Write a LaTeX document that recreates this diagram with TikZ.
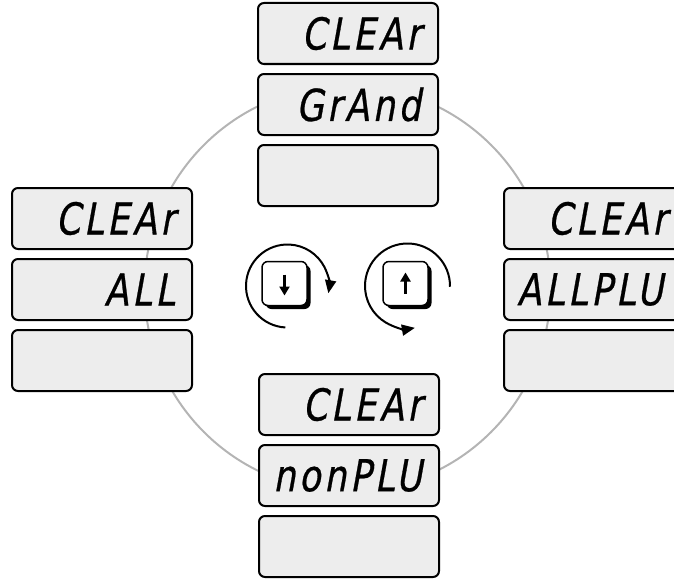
\documentclass[tikz,border=0pt]{standalone}
\usepackage{fontspec}
\newfontfamily\seg[FakeStretch=0.8,FakeSlant=0.18,LetterSpace=8,FakeBold=0.6]{DejaVu Sans}
\usetikzlibrary{arrows.meta,shadows}
\definecolor{boxgray}{RGB}{237,237,237}
\definecolor{ringgray}{RGB}{180,180,180}
\begin{document}
\begin{tikzpicture}[x=1pt,y=1pt,
  display/.style={draw=black, line width=2pt, fill=boxgray, rounded corners=6pt,
    rectangle, minimum height=61pt, minimum width=180pt, inner sep=0pt, anchor=north west},
  segtext/.style={font=\seg\fontsize{44}{44}\selectfont, inner sep=0pt, anchor=east},
  keybox/.style={draw=black, line width=1.5pt, fill=white, rounded corners=6pt,
    minimum width=45pt, minimum height=44pt, inner sep=0pt,
    drop shadow={shadow xshift=3.5pt, shadow yshift=-3.5pt, fill=black, opacity=1}},
  keyarrow/.style={line width=2.8pt, -{Triangle[length=9pt,width=10pt]}},
  circarrow/.style={line width=2pt, -{Triangle[length=13pt,width=11pt]}},
  ring/.style={draw=ringgray, line width=2pt}]
\useasboundingbox (0,0) rectangle (674,-586);
\clip (0,0) rectangle (674,-586);
% ring
\coordinate (ctr) at (347.5,-288.5);
\draw[ring] (ctr) circle[radius=203pt];
% top group
\node[display] (t1) at (257,-2) {};
\node[display] (t2) at (257,-73) {};
\node[display] (t3) at (257,-144) {};
% left group
\node[display] (l1) at (11,-187) {};
\node[display] (l2) at (11,-258) {};
\node[display] (l3) at (11,-329) {};
% right group
\node[display] (r1) at (503,-187) {};
\node[display] (r2) at (503,-258) {};
\node[display] (r3) at (503,-329) {};
% bottom group
\node[display] (b1) at (258,-373) {};
\node[display] (b2) at (258,-444) {};
\node[display] (b3) at (258,-515) {};
% texts
\node[segtext] (t1txt) at ([xshift=-18pt]t1.east) {CLEAr};
\node[segtext] (t2txt) at ([xshift=-18pt]t2.east) {GrAnd};
\node[segtext] (l1txt) at ([xshift=-18pt]l1.east) {CLEAr};
\node[segtext] (l2txt) at ([xshift=-18pt]l2.east) {ALL};
\node[segtext] (r1txt) at ([xshift=-18pt]r1.east) {CLEAr};
\node[segtext, anchor=west] (r2txt) at ([xshift=14pt]r2.west) {ALLPLU};
\node[segtext] (b1txt) at ([xshift=-18pt]b1.east) {CLEAr};
\node[segtext] (b2txt) at ([xshift=-18pt]b2.east) {nonPLU};
% keys
\node[keybox] (kdown) at (284.5,-283.5) {};
\node[keybox] (kup) at (405.5,-283.5) {};
\draw[keyarrow] ([yshift=9pt]kdown.center) -- ([yshift=-12pt]kdown.center);
\draw[keyarrow] ([yshift=-10pt]kup.center) -- ([yshift=11pt]kup.center);
% circular arrows
\coordinate (cd) at (287.5,-286);
\coordinate (cu) at (407.5,-286);
\draw[circarrow] (cd) ++(-93:41.5pt) arc[start angle=-93, end angle=-370, radius=41.5pt];
\draw[circarrow] (cu) ++(-1:42.5pt) arc[start angle=-1, end angle=280, radius=42.5pt];
\end{tikzpicture}
\end{document}
